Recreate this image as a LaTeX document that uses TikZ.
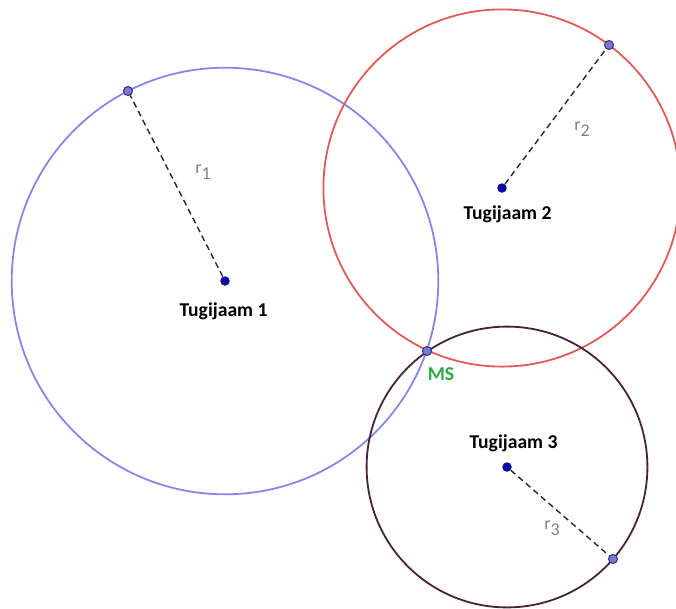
\documentclass[tikz,border=0pt]{standalone}
\usepackage{fontspec}
\setmainfont{Carlito}
\begin{document}
\begin{tikzpicture}[x=1pt,y=-1pt,
  circA/.style={draw=blueC,line width=1.8pt},
  circB/.style={draw=redC,line width=1.8pt},
  circC/.style={draw=purpC,line width=1.8pt},
  ctr/.style={circle,fill=ctrC,inner sep=0pt,minimum size=9.5pt},
  pt/.style={circle,fill=ptC,draw=ptD,line width=1pt,inner sep=0pt,minimum size=9pt},
  rad/.style={draw=gray!30!black,line width=1.4pt,dash pattern=on 6pt off 4pt},
  lbl/.style={font=\fontsize{19.6}{21}\selectfont\bfseries,text=black},
  rl/.style={font=\fontsize{18}{20}\selectfont,text=gray}]
\definecolor{blueC}{RGB}{135,135,230}
\definecolor{redC}{RGB}{225,90,90}
\definecolor{purpC}{RGB}{70,35,60}
\definecolor{ctrC}{RGB}{10,10,160}
\definecolor{ptC}{RGB}{120,120,220}
\definecolor{ptD}{RGB}{50,50,110}
\definecolor{msC}{RGB}{40,170,70}
\useasboundingbox (0,0) rectangle (676,608);
\clip (0,0) rectangle (676,608);
\coordinate (c1) at (225,281);
\coordinate (c2) at (502,188);
\coordinate (c3) at (507,467);
\draw[circA] (c1) circle (213.3);
\draw[circB] (c2) circle (178.6);
\draw[circC] (c3) circle (140.4);
\node[pt] (p1) at (128,91) {};
\node[pt] (p2) at (609,45) {};
\node[pt] (p3) at (613,559) {};
\node[ctr] (s1) at (c1) {};
\node[ctr] (s2) at (c2) {};
\node[ctr] (s3) at (c3) {};
\draw[rad] (s1) -- (p1);
\draw[rad] (s2) -- (p2);
\draw[rad] (s3) -- (p3);
\node[pt] (ms) at (427,351) {};
\node[lbl] (t1) at (223.5,311) {Tugijaam 1};
\node[lbl] (t2) at (507.5,214) {Tugijaam 2};
\node[lbl] (t3) at (513.5,443) {Tugijaam 3};
\node[font=\fontsize{19.6}{21}\selectfont\bfseries,text=msC] (msl) at (441,374) {MS};
\node[rl] (r1) at (203,172) {r\raisebox{-0.3em}{1}};
\node[rl] (r2) at (582,129) {r\raisebox{-0.3em}{2}};
\node[rl] (r3) at (552,528) {r\raisebox{-0.3em}{3}};
\end{tikzpicture}
\end{document}
